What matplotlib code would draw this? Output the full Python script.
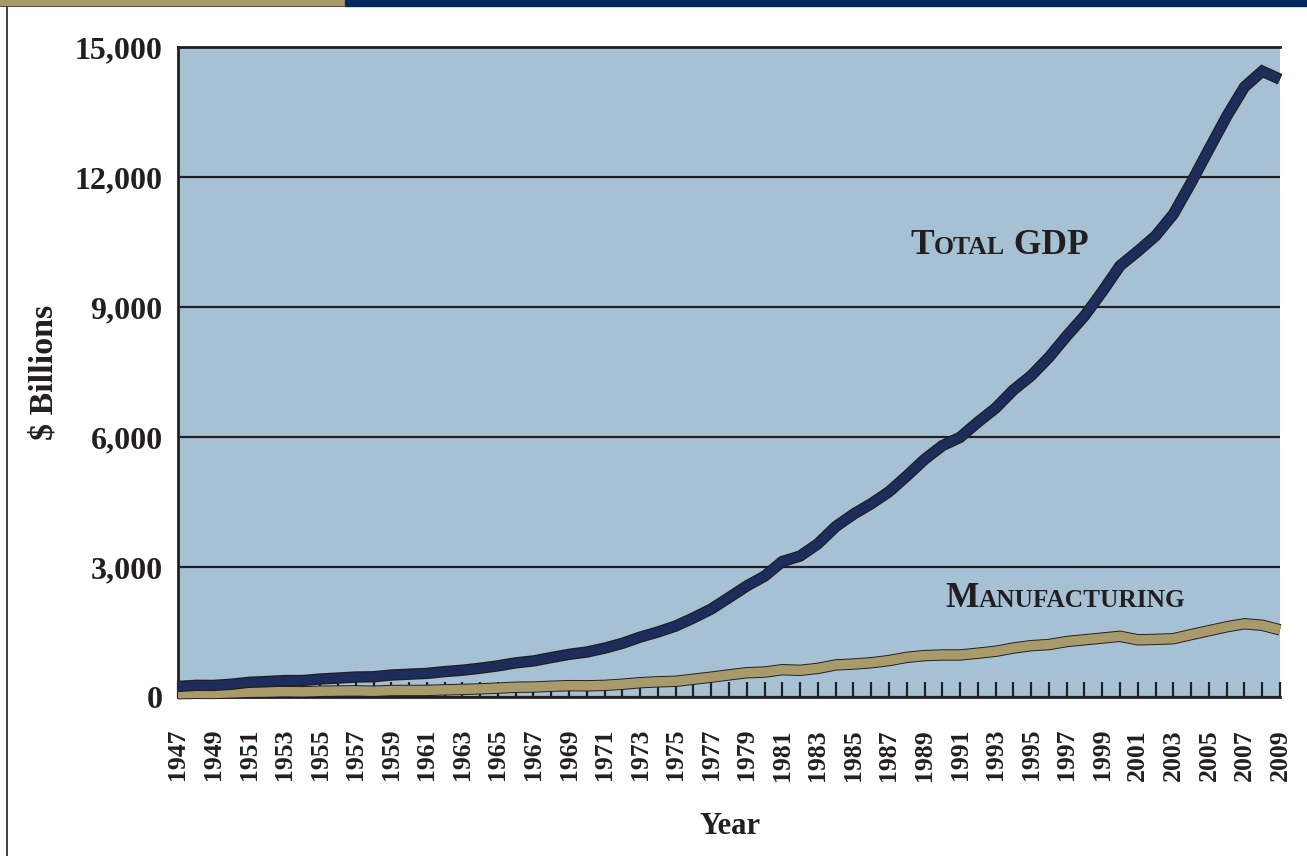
import numpy as np
import matplotlib.pyplot as plt
import matplotlib.patheffects as pe
from matplotlib.patches import Rectangle
from matplotlib.lines import Line2D

years = list(range(1947, 2010))

# $ billions
total_gdp = [244, 269, 267, 294, 339, 358, 379, 380, 415, 437,
             461, 467, 507, 526, 545, 586, 618, 664, 719, 788,
             832, 910, 984, 1038, 1127, 1238, 1382, 1500, 1638, 1825,
             2030, 2294, 2562, 2788, 3127, 3253, 3535, 3931, 4218, 4460,
             4736, 5100, 5482, 5800, 5992, 6342, 6667, 7085, 7415, 7838,
             8332, 8794, 9354, 9952, 10286, 10642, 11142, 11868, 12638, 13399,
             14078, 14441, 14256]
manufacturing = [75, 85, 82, 95, 110, 115, 125, 118, 132, 138,
                 142, 133, 150, 152, 152, 165, 175, 188, 205, 225,
                 230, 248, 262, 258, 268, 295, 330, 350, 362, 410,
                 458, 510, 560, 575, 630, 615, 660, 740, 760, 790,
                 840, 915, 955, 970, 970, 1010, 1055, 1130, 1185, 1210,
                 1280, 1320, 1360, 1400, 1320, 1330, 1345, 1440, 1530, 1620,
                 1690, 1655, 1550]
yticks = [0, 3000, 6000, 9000, 12000, 15000]

navy = '#1c2d5b'
tan = '#a99a6b'
ink = '#231f20'
bg = '#a6c1d4'
serif = ['Liberation Serif', 'DejaVu Serif']
plt.rcParams['font.family'] = serif
plt.rcParams['font.weight'] = 'bold'

fig = plt.figure(figsize=(13.07, 8.56), dpi=100)
ax = fig.add_axes([178/1307, 1 - 697/856, 1102/1307, 650/856])
ax.set_facecolor(bg)
ax.set_axisbelow(True)

outline = [pe.Stroke(linewidth=8.2, foreground=ink), pe.Normal()]
ax.plot(years, manufacturing, color=tan, lw=6.8, solid_capstyle='butt',
        solid_joinstyle='miter', clip_on=False, path_effects=outline, zorder=3)
ax.plot(years, total_gdp, color=navy, lw=6.4, solid_capstyle='butt',
        solid_joinstyle='miter', clip_on=False, path_effects=outline, zorder=3)

ax.set_xlim(1947, 2009)
ax.set_ylim(0, 15000)
ax.set_yticks(yticks)
ax.set_yticklabels(['{:,}'.format(v) for v in yticks])
ax.yaxis.grid(True, color=ink, lw=1.6)
ax.tick_params(axis='y', length=0, pad=11, labelsize=23, labelcolor=ink)
ax.set_xticks(years)
ax.set_xticklabels([str(y) if (y - 1947) % 2 == 0 else '' for y in years],
                   rotation=90)
ax.tick_params(axis='x', direction='in', length=11, width=1.6, color=ink,
               pad=23, labelsize=18.5, labelcolor=ink)
for lab in ax.get_xticklabels():
    lab.set_va('top')
for s in ['left', 'top', 'bottom']:
    ax.spines[s].set_color(ink)
    ax.spines[s].set_linewidth(2.0)
ax.spines['right'].set_visible(False)


def small_caps(x, y, first, rest, tail, big, small):
    t1 = ax.text(x, y, first, fontsize=big, va='baseline', ha='left', color=ink)
    t2 = ax.annotate(rest, xy=(1, y), xycoords=(t1, 'data'), fontsize=small,
                     va='baseline', ha='left', color=ink)
    if tail:
        ax.annotate(tail, xy=(1, y), xycoords=(t2, 'data'), fontsize=big,
                    va='baseline', ha='left', color=ink)


small_caps(1988.2, 10230, 'T', 'OTAL', ' GDP', 25.5, 18.5)
small_caps(1990.2, 2080, 'M', 'ANUFACTURING', '', 25.5, 18.3)

fig.text(730/1307, 1 - 826/856, 'Year', ha='center', va='center',
         fontsize=22, color=ink)
fig.text(44/1307, 1 - 372/856, '$ Billions', ha='center', va='center',
         rotation=90, fontsize=24.5, color=ink)

# header bars and frame
fig.patches.append(Rectangle((0, 1 - 5/856), 345/1307, 5/856,
                             transform=fig.transFigure, color=tan, zorder=5))
fig.patches.append(Rectangle((345/1307, 1 - 6/856), 1 - 345/1307, 6/856,
                             transform=fig.transFigure, color='#002a5c', zorder=5))
fig.lines.append(Line2D([0, 345/1307], [1 - 5.5/856, 1 - 5.5/856],
                        transform=fig.transFigure, color=ink, lw=1.2))
fig.lines.append(Line2D([7/1307, 7/1307], [0, 1 - 5/856],
                        transform=fig.transFigure, color=ink, lw=1.2))

fig.savefig('out.png', dpi=100)
